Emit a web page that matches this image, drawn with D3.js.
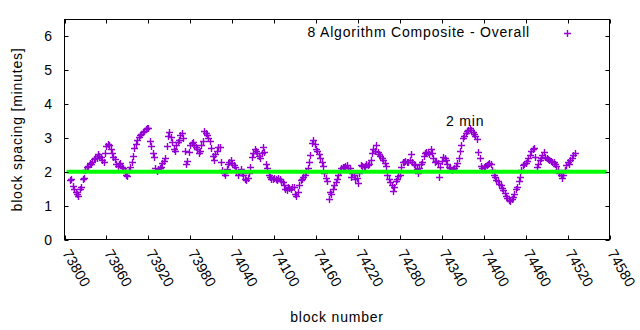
<!DOCTYPE html>
<html><head><meta charset="utf-8">
<script src="https://cdn.jsdelivr.net/npm/d3@7"></script>
<style>body{margin:0;background:#fff}svg text{font-family:"Liberation Sans",Arial,sans-serif;fill:#000}</style>
</head><body><svg id="c" width="640" height="330"></svg>
<script>
// ---- data ----
const startBlock = 73808;
const blockStep = 2;
const spacing = [
1.75,1.80,1.58,1.50,1.40,1.35,1.30,1.48,1.55,1.78,1.82,2.05,2.15,2.18,2.25,2.22,2.30,2.38,2.42,2.40,
2.52,2.48,2.44,2.36,2.28,2.55,2.76,2.82,2.78,2.66,2.55,2.45,2.38,2.22,2.18,2.24,2.26,2.15,2.10,1.98,
1.92,1.88,2.05,2.15,2.30,2.48,2.70,2.82,2.95,3.02,3.10,3.12,3.18,3.22,3.26,3.30,3.28,2.92,2.75,2.55,
2.45,2.10,2.02,2.08,2.12,2.15,2.25,2.32,2.40,2.75,3.05,3.18,3.02,2.88,2.68,2.62,2.78,2.88,2.95,3.10,
3.16,3.00,2.62,2.22,2.32,2.60,2.78,2.85,2.88,2.80,2.74,2.68,2.55,2.62,2.80,2.92,3.20,3.15,3.08,3.00,
2.92,2.70,2.48,2.35,2.52,2.62,2.72,2.74,2.28,2.05,1.95,1.92,2.08,2.22,2.30,2.35,2.25,2.20,2.15,2.02,
1.90,1.98,2.08,1.95,1.92,1.80,1.76,1.82,1.95,2.15,2.45,2.55,2.66,2.62,2.55,2.48,2.42,2.55,2.74,2.58,
2.22,2.10,1.92,1.85,1.80,1.78,1.83,1.80,1.76,1.82,1.78,1.74,1.70,1.62,1.50,1.45,1.55,1.52,1.50,1.55,
1.56,1.35,1.30,1.40,1.62,1.75,1.78,1.85,1.92,2.00,2.12,2.28,2.50,2.85,2.94,2.82,2.68,2.62,2.52,2.40,
2.30,2.18,1.95,1.82,1.72,1.20,1.40,1.35,1.50,1.62,1.70,1.78,1.90,2.02,2.12,2.15,2.15,2.18,2.20,2.12,
2.10,1.85,1.95,1.90,1.80,1.82,1.66,1.95,2.20,2.18,2.15,2.18,2.22,2.20,2.24,2.35,2.55,2.66,2.62,2.80,
2.60,2.52,2.46,2.42,2.35,2.25,2.18,1.90,1.80,1.70,1.60,1.42,1.55,1.72,1.80,1.88,1.92,2.15,2.28,2.30,
2.32,2.28,2.30,2.35,2.52,2.30,2.22,2.20,2.08,1.95,2.10,2.22,2.30,2.48,2.55,2.58,2.60,2.52,2.66,2.55,
2.40,2.30,2.32,2.25,1.85,2.15,2.32,2.44,2.40,2.35,2.22,2.15,2.10,2.05,2.08,2.12,2.18,2.25,2.42,2.62,
2.80,3.00,3.06,3.15,3.22,3.25,3.28,3.24,3.18,3.12,3.05,2.98,2.60,2.42,2.18,2.12,2.15,2.16,2.20,2.22,
2.25,2.24,2.05,1.90,1.85,1.76,1.72,1.65,1.60,1.52,1.46,1.38,1.28,1.24,1.18,1.15,1.20,1.25,1.35,1.50,
1.56,1.72,1.85,2.05,2.20,2.24,2.25,2.32,2.40,2.50,2.62,2.66,2.70,2.44,2.15,2.22,2.35,2.42,2.50,2.58,
2.45,2.40,2.38,2.35,2.32,2.30,2.28,2.22,2.18,2.05,1.96,1.90,1.82,1.92,2.05,2.20,2.28,2.22,2.35,2.42,2.50,2.55
];
const xTicks = [73800,73860,73920,73980,74040,74100,74160,74220,74280,74340,74400,74460,74520,74580];
const yTicks = [0,1,2,3,4,5,6];
const targetSpacing = 2;
const seriesName = "8 Algorithm Composite - Overall";
const annotationText = "2 min";
const annotationBlock = 74346;
const annotationValue = 3.35;

// ---- chart ----
const svg = d3.select("#c");
const L = 64.5, R = 609.5, T = 19.5, B = 239.5;
const x = d3.scaleLinear().domain([73800, 74580]).range([L, R]);
const y = d3.scaleLinear().domain([0, 6.5]).range([B, T]);
const purple = "#9400d3";
const tl = 4;

const points = spacing.map((v, i) => ({b: startBlock + i * blockStep, v}));

// points
const plus = (g, cx, cy) => {
  const px = Math.round(cx) + 0.5, py = Math.round(cy) + 0.5;
  g.append("path")
    .attr("d", `M${px-3.5},${py}H${px+3.5}M${px},${py-3.5}V${py+3.5}`)
    .attr("stroke", purple).attr("stroke-width", 1.4).attr("fill", "none");
};
const pg = svg.append("g");
points.forEach(p => plus(pg, x(p.b), y(p.v)));

// target line
svg.append("line")
  .attr("x1", x(73803)).attr("x2", x(74576))
  .attr("y1", y(targetSpacing)).attr("y2", y(targetSpacing))
  .attr("stroke", "#00ff00").attr("stroke-width", 4);

// border
svg.append("rect").attr("x", L).attr("y", T).attr("width", R - L).attr("height", B - T)
  .attr("fill", "none").attr("stroke", "#000").attr("stroke-width", 1);

// ticks
const tg = svg.append("g").attr("stroke", "#000").attr("stroke-width", 1);
xTicks.forEach(t => {
  const xx = Math.round(x(t)) + 0.5;
  tg.append("line").attr("x1", xx).attr("x2", xx).attr("y1", B).attr("y2", B - tl);
  tg.append("line").attr("x1", xx).attr("x2", xx).attr("y1", T).attr("y2", T + tl);
});
yTicks.forEach(t => {
  const yy = Math.round(y(t)) + 0.5;
  tg.append("line").attr("x1", L).attr("x2", L + tl).attr("y1", yy).attr("y2", yy);
  tg.append("line").attr("x1", R).attr("x2", R - tl).attr("y1", yy).attr("y2", yy);
});

// tick labels
svg.append("g").selectAll("text").data(yTicks).join("text")
  .attr("x", 52).attr("y", d => y(d) + 5)
  .attr("text-anchor", "end").style("font-size", "14px").text(d => d);
svg.append("g").selectAll("text").data(xTicks).join("text")
  .attr("transform", d => `translate(${x(d) - 2.5},${253}) rotate(60)`)
  .attr("text-anchor", "start").style("font-size", "14.5px").text(d => d);

// axis titles
svg.append("text").attr("x", (L + R) / 2).attr("y", 322).attr("text-anchor", "middle")
  .style("font-size", "14px").style("letter-spacing", "0.8px").text("block number");
svg.append("text").attr("transform", `translate(22,${(T + B) / 2}) rotate(-90)`)
  .attr("text-anchor", "middle").style("font-size", "14px").style("letter-spacing", "0.8px")
  .text("block spacing [minutes]");

// annotation
svg.append("text").attr("x", x(annotationBlock)).attr("y", y(annotationValue))
  .style("font-size", "14px").style("letter-spacing", "0.8px").text(annotationText);

// legend
svg.append("text").attr("x", 530).attr("y", 37).attr("text-anchor", "end")
  .style("font-size", "14px").style("letter-spacing", "0.8px").text(seriesName);
plus(svg.append("g"), 567, 32.5);
</script></body></html>
